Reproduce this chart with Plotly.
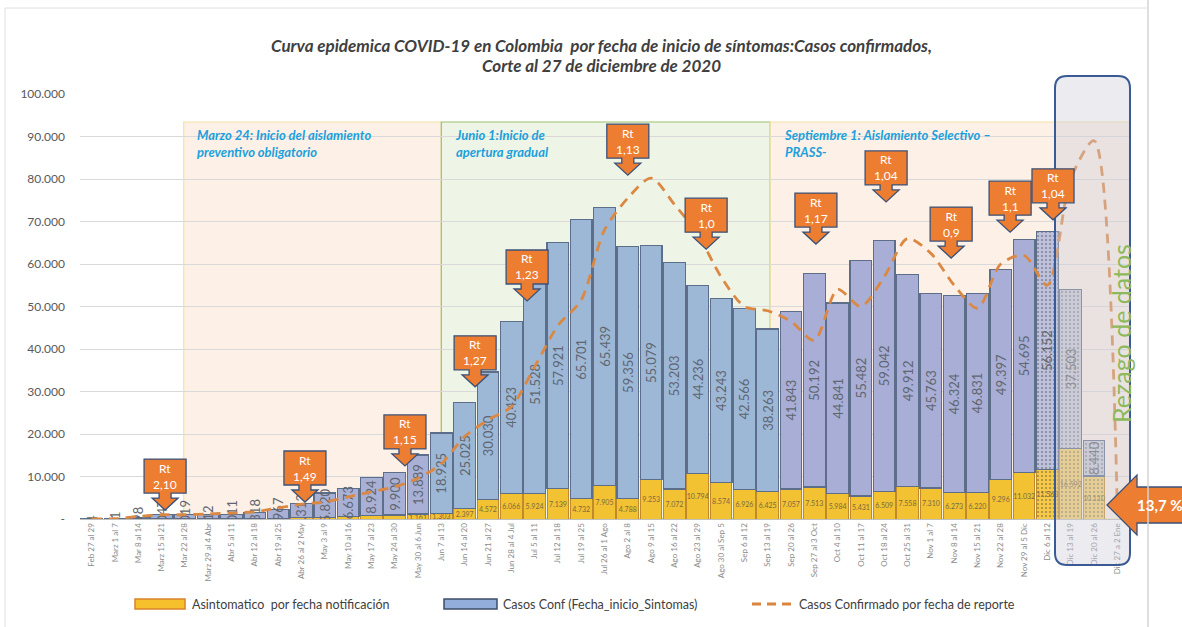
import plotly.graph_objects as go

# ---------------- data ----------------
categories = [
    "Feb 27 al 29", "Marz 1 al 7", "Mar 8 al 14", "Marz 15 al 21", "Mar 22 al 28",
    "Marz 29 al 4 Abr", "Abr 5 al 11", "Abr 12 al 18", "Abr 19 al 25", "Abr 26 al 2 May",
    "May 3 al 9", "May 10 al 16", "May 17 al 23", "May 24 al 30", "May 30 al 6 Jun",
    "Jun 7 al 13", "Jun 14 al 20", "Jun 21 al 27", "Jun 28 al 4 Jul", "Jul 5 al 11",
    "Jul 12 al 18", "Jul 19 al 25", "Jul 26 al 1 Ago", "Ago 2 al 8", "Ago 9 al 15",
    "Ago 16 al 22", "Ago 23 al 29", "Ago 30 al Sep 5", "Sep 6 al 12", "Sep 13 al 19",
    "Sep 20 al 26", "Sep 27 al 3 Oct", "Oct 4 al 10", "Oct 11 al 17", "Oct 18 al 24",
    "Oct 25 al 31", "Nov 1 al 7", "Nov 8 al 14", "Nov 15 al 21", "Nov 22 al 28",
    "Nov 29 al 5 Dic", "Dic 6 al 12", "Dic 13 al 19", "Dic 20 al 26", "Dic 27 a 2 Ene",
]
asintomaticos = [0, 2, 10, 30, 40, 60, 80, 120, 200, 300, 300, 500, 750, 950, 1161,
                 1303, 2397, 4572, 6066, 5924, 7139, 4732, 7905, 4788, 9253, 7072, 10794,
                 8574, 6926, 6425, 7057, 7513, 5984, 5431, 6509, 7558, 7310, 6273, 6220,
                 9296, 11032, 11563, 16592, 10110, None]
casos_conf = [4, 51, 398, 1047, 1019, 912, 1011, 1318, 1967, 3313, 5820, 6673, 8924, 9900,
              13889, 18925, 25025, 30030, 40423, 51528, 57921, 65701, 65439, 59356, 55079,
              53203, 44236, 43243, 42566, 38263, 41843, 50192, 44841, 55482, 59042, 49912,
              45763, 46324, 46831, 49397, 54695, 56152, 37503, 8440, None]
casos_reporte = [0, 100, 600, 1000, 1000, 1200, 1400, 1700, 2600, 3500, 4000, 5200, 6400,
                 7600, 9600, 13000, 19400, 23300, 26400, 35800, 45500, 51500, 68000, 75500,
                 80200, 74000, 67000, 57000, 50000, 49000, 46500, 42000, 54000, 50000, 57000,
                 66000, 62500, 55000, 49600, 60000, 62000, 55000, 80000, 89000, 2000]
y_ticks = [0, 10000, 20000, 30000, 40000, 50000, 60000, 70000, 80000, 90000, 100000]
y_ticktext = ["-", "10.000", "20.000", "30.000", "40.000", "50.000", "60.000",
              "70.000", "80.000", "90.000", "100.000"]
rt_labels = ["2,10", "1,49", "1,15", "1,27", "1,23", "1,13", "1,0", "1,17", "1,04", "0,9", "1,1", "1,04"]
rt_x = [3.15, 9.15, 13.44, 16.45, 18.68, 23.0, 26.36, 31.07, 34.08, 36.87, 39.4, 41.24]
rt_tip = [2100, 4000, 12500, 31100, 51300, 80900, 63500, 64700, 74600, 61400, 67500, 70400]

# ---------------- geometry helpers ----------------
W, H = 1182, 627
ML, MR, MT, MB = 80, 53, 94, 108
PW, PH = W - ML - MR, H - MT - MB
XMIN, XMAX, YMAX = -0.5, 44.5, 100000
n = len(categories)
XU = (XMAX - XMIN) / PW      # data units per px (x)
YU = YMAX / PH               # data units per px (y)
base_py = H - MB


def pxx(px):
    return (px - ML) / PW


def pyy(py):
    return (base_py - py) / PH


def fmt(v):
    return f"{v:,}".replace(",", ".")


FONT = "Lato, 'Open Sans', sans-serif"

# colors per bar by region
blue_cols, yel_cols, patt = [], [], []
for i in range(n):
    if i < 4:
        b = "#9BB0D8"
    elif i < 15:
        b = "#A9B0D6"
    elif i < 30:
        b = "#9DB8D7"
    else:
        b = "#A8AED6"
    y = "#F2C232"
    p = ""
    if i == 41:
        b, y, p = "#BDC1DC", "#F6C948", "."
    elif i >= 42:
        b, y, p = "#CACAD6", "#F4CF6A", "."
    blue_cols.append(b)
    yel_cols.append(y)
    patt.append(p)

xs = list(range(n))
yel_text = [fmt(v) if (v is not None and i >= 14) else "" for i, v in enumerate(asintomaticos)]
blue_text = [fmt(v) if v is not None else "" for v in casos_conf]

fig = go.Figure()
fig.add_trace(go.Bar(
    x=xs, y=asintomaticos, name="Asintomatico  por fecha notificación",
    marker=dict(color=yel_cols, line=dict(color="#C08A2A", width=1),
                pattern=dict(shape=patt, fgcolor="white", size=4, solidity=0.2, fillmode="overlay")),
    text=yel_text, textposition="inside", insidetextanchor="middle", textangle=0,
    constraintext="none", textfont=dict(size=7, color="#7A6A40", family=FONT),
    showlegend=False, hoverinfo="skip",
))
fig.add_trace(go.Bar(
    x=xs, y=casos_conf, name="Casos Conf (Fecha_inicio_Sintomas)",
    marker=dict(color=blue_cols, line=dict(color="#5C6E8A", width=1.2),
                pattern=dict(shape=patt, fgcolor="white", size=4, solidity=0.2, fillmode="overlay")),
    text=blue_text, textposition="inside", insidetextanchor="middle", textangle=-90,
    constraintext="none", textfont=dict(size=13, color="#5F6670", family=FONT),
    showlegend=False, hoverinfo="skip",
))
fig.add_trace(go.Scatter(
    x=xs, y=casos_reporte, mode="lines", name="Casos Confirmado por fecha de reporte",
    line=dict(color="#DB8843", width=2.8, dash="10px,7px", shape="spline", smoothing=0.8),
    showlegend=False, hoverinfo="skip",
))

shapes = []
annotations = []


def note(x, y, text, size, color, xanchor="center", yanchor="middle", **kw):
    annotations.append(dict(xref="paper", yref="paper", x=x, y=y, xanchor=xanchor,
                            yanchor=yanchor, showarrow=False, text=text,
                            font=dict(family=FONT, size=size, color=color), **kw))


# region backgrounds
top_region = (base_py - 122) * YU
regions = [
    (3.95, 15.0, "rgba(251,228,210,0.55)", "#F1E2A4",
     "Marzo 24: Inicio del aislamiento<br>preventivo obligatorio", 195),
    (15.0, 29.1, "rgba(226,239,214,0.6)", "#9CC36A",
     "Junio 1:Inicio de<br>apertura gradual", 453),
    (29.1, 44.55, "rgba(251,228,210,0.55)", "#F1E2A4",
     "Septiembre 1: Aislamiento Selectivo –<br>PRASS-", 782),
]
for x0, x1, fc, lc, txt, tx in regions:
    shapes.append(dict(type="rect", xref="x", yref="y", x0=x0, x1=x1, y0=0, y1=top_region,
                       fillcolor=fc, line=dict(color=lc, width=1.2), layer="below"))
    note(pxx(tx), pyy(125), f"<b><i>{txt}</i></b>", 13, "#1BA0DC",
         xanchor="left", yanchor="top", align="left")

# rezago rounded rectangle (paper coords)
rx0, rx1, ry0, ry1, rad = 1055, 1130, 76, 565, 12


def P(px, py):
    return f"{pxx(px):.5f},{pyy(py):.5f}"


path = (f"M {P(rx0 + rad, ry0)} L {P(rx1 - rad, ry0)} Q {P(rx1, ry0)} {P(rx1, ry0 + rad)} "
        f"L {P(rx1, ry1 - rad)} Q {P(rx1, ry1)} {P(rx1 - rad, ry1)} "
        f"L {P(rx0 + rad, ry1)} Q {P(rx0, ry1)} {P(rx0, ry1 - rad)} "
        f"L {P(rx0, ry0 + rad)} Q {P(rx0, ry0)} {P(rx0 + rad, ry0)} Z")
shapes.append(dict(type="path", xref="paper", yref="paper", path=path,
                   fillcolor="rgba(205,205,218,0.40)", line=dict(color="#3A5A94", width=2),
                   layer="above"))

# Rt callouts
for lab, cx, tip in zip(rt_labels, rt_x, rt_tip):
    bb = tip + 17 * YU
    top = bb + 34 * YU
    sb = bb - 5 * YU

    def D(dxpx, yv):
        return f"{cx + dxpx * XU:.4f},{yv:.1f}"
    p = (f"M {D(-21, top)} L {D(21, top)} L {D(21, bb)} L {D(6, bb)} L {D(6, sb)} "
         f"L {D(13, sb)} L {D(0, tip)} L {D(-13, sb)} L {D(-6, sb)} L {D(-6, bb)} "
         f"L {D(-21, bb)} Z")
    shapes.append(dict(type="path", xref="x", yref="y", path=p, fillcolor="#ED7D31",
                       line=dict(color="#3B5278", width=1.3), layer="above"))
    annotations.append(dict(xref="x", yref="y", x=cx, y=(top + bb) / 2, showarrow=False,
                            xanchor="center", yanchor="middle",
                            text=f"Rt<br>{lab}", align="center",
                            font=dict(family=FONT, size=12, color="white")))

# 13,7 % arrow
ap = [(1107, 505), (1137, 475), (1137, 487), (1186, 487), (1186, 523), (1137, 523), (1137, 535)]
shapes.append(dict(type="path", xref="paper", yref="paper",
                   path="M " + " L ".join(P(a, b) for a, b in ap) + " Z",
                   fillcolor="#ED7D31", line=dict(color="#3B5278", width=1.3), layer="above"))
note(pxx(1160), pyy(505), "<b>13,7 %</b>", 15, "white")

# Rezago de datos
note(pxx(1121), pyy(334), "Rezago de datos", 25, "#8DB95A", textangle=-90)

# title
note(pxx(601), pyy(45),
     "<b><i>Curva epidemica COVID-19 en Colombia  por fecha de inicio de síntomas:Casos confirmados,</i></b>",
     17, "#404040")
note(pxx(601), pyy(66), "<b><i>Corte al 27 de diciembre de 2020</i></b>", 17, "#404040")

# manual legend
ly = 604
shapes.append(dict(type="rect", xref="paper", yref="paper", x0=pxx(135), x1=pxx(185),
                   y0=pyy(609), y1=pyy(599), fillcolor="#F5C02C", line=dict(color="#D9822B", width=1.5)))
shapes.append(dict(type="rect", xref="paper", yref="paper", x0=pxx(444), x1=pxx(497),
                   y0=pyy(609), y1=pyy(599), fillcolor="#94AEDC", line=dict(color="#3E4E6A", width=1.5)))
shapes.append(dict(type="line", xref="paper", yref="paper", x0=pxx(752), x1=pxx(792),
                   y0=pyy(ly), y1=pyy(ly), line=dict(color="#D9853F", width=3, dash="9px,6px")))
for tx, t in [(190, "Asintomatico  por fecha notificación"), (501, "Casos Conf (Fecha_inicio_Sintomas)"),
              (797, "Casos Confirmado por fecha de reporte")]:
    note(pxx(tx), pyy(ly), t, 12.5, "#404040", xanchor="left")

# outer frame lines
shapes.append(dict(type="line", xref="paper", yref="paper", x0=pxx(1148), x1=pxx(1148),
                   y0=pyy(0), y1=pyy(627), line=dict(color="#D4D4D4", width=1.5)))
shapes.append(dict(type="line", xref="paper", yref="paper", x0=pxx(5), x1=pxx(5),
                   y0=pyy(8), y1=pyy(627), line=dict(color="#E0E0E0", width=1)))
shapes.append(dict(type="line", xref="paper", yref="paper", x0=pxx(5), x1=pxx(1148),
                   y0=pyy(8), y1=pyy(8), line=dict(color="#E0E0E0", width=1)))

fig.update_layout(
    width=W, height=H, margin=dict(l=ML, r=MR, t=MT, b=MB),
    paper_bgcolor="white", plot_bgcolor="white",
    barmode="stack", bargap=0.07,
    shapes=shapes, annotations=annotations, showlegend=False,
    font=dict(family=FONT, color="#595959"),
    xaxis=dict(range=[XMIN, XMAX], tickmode="array", tickvals=xs, ticktext=categories,
               tickangle=-90, tickfont=dict(size=8, color="#8C8C8C", family=FONT),
               showgrid=False, zeroline=False, showline=True, linecolor="#BFBFBF",
               ticks="", fixedrange=True),
    yaxis=dict(range=[0, YMAX], tickmode="array", tickvals=y_ticks, ticktext=y_ticktext,
               tickfont=dict(size=12, color="#595959", family=FONT), showgrid=True,
               gridcolor="#D9D9D9", gridwidth=1, zeroline=False, showline=False,
               ticklabelstandoff=14, fixedrange=True),
)

fig.write_html("out.html", config={"displayModeBar": False})
